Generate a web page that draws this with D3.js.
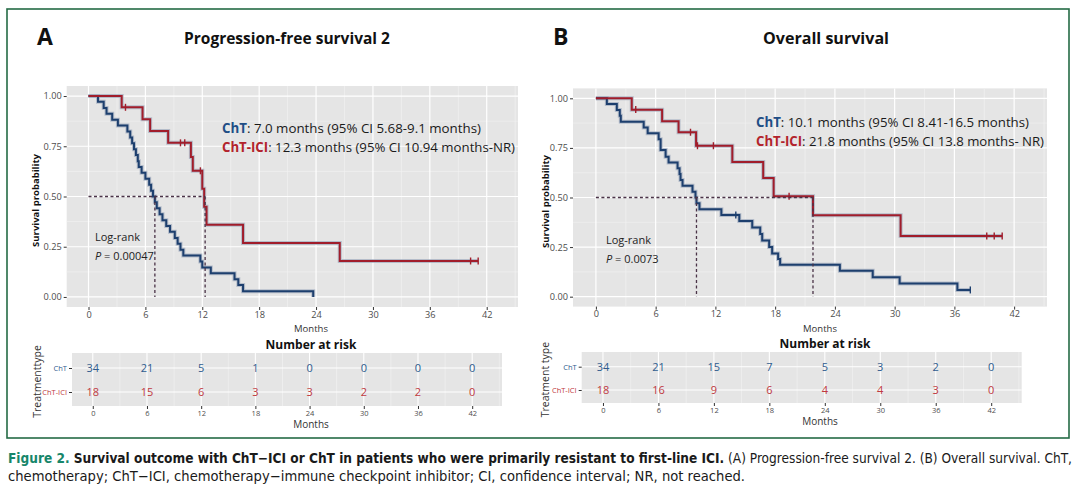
<!DOCTYPE html>
<html><head><meta charset="utf-8">
<script src="https://cdn.jsdelivr.net/npm/d3@7"></script>
<style>body{margin:0;background:#fff;} svg{display:block;}</style>
</head><body>
<svg id="c" width="1080" height="487"></svg>
<script>
// ---------------- DATA ----------------
const monthTicks = [0, 6, 12, 18, 24, 30, 36, 42];
const yTicks = [0, 0.25, 0.5, 0.75, 1];
const yTickLabels = ["0.00", "0.25", "0.50", "0.75", "1.00"];
const groups = ["ChT", "ChT-ICI"];

// Panel A: Progression-free survival 2
const pfsChtTime = [1.0, 1.6, 1.9, 2.5, 3.1, 4.1, 4.4, 4.6, 4.8, 5.0, 5.2, 5.3, 5.6, 6.0, 6.4, 6.6, 6.8, 7.0, 7.2, 7.5, 7.8, 8.2, 8.6, 9.1, 9.4, 9.7, 10.0, 11.8, 12.0, 12.9, 15.4, 15.8, 16.3, 23.7];
const pfsChtSurv = [0.971, 0.941, 0.912, 0.882, 0.853, 0.824, 0.794, 0.765, 0.735, 0.706, 0.676, 0.647, 0.618, 0.588, 0.559, 0.529, 0.500, 0.471, 0.441, 0.412, 0.382, 0.353, 0.324, 0.294, 0.265, 0.235, 0.206, 0.176, 0.147, 0.118, 0.088, 0.059, 0.029, 0.0];
const pfsChtEnd = 23.7;
const pfsChtCensor = [];
const pfsIciTime = [3.5, 5.7, 6.5, 8.4, 10.8, 11.0, 12.0, 12.2, 12.45, 16.3, 26.5];
const pfsIciSurv = [0.944, 0.885, 0.826, 0.767, 0.697, 0.628, 0.538, 0.449, 0.359, 0.269, 0.179];
const pfsIciEnd = 41.1;
const pfsIciCensor = [3.9, 9.7, 10.15, 11.8, 40.3, 41.1];
const pfsRiskCht = [34, 21, 5, 1, 0, 0, 0, 0];
const pfsRiskIci = [18, 15, 6, 3, 3, 2, 2, 0];
const pfsMedians = [7.0, 12.3];

// Panel B: Overall survival
const osChtTime = [1.1, 2.1, 2.4, 2.5, 4.8, 5.2, 6.3, 6.5, 7.0, 7.3, 8.2, 8.4, 8.5, 8.7, 9.7, 10.0, 10.1, 10.4, 12.6, 14.4, 15.7, 16.5, 16.7, 17.4, 17.7, 18.3, 18.5, 24.5, 27.8, 30.5, 36.3];
const osChtSurv = [0.971, 0.941, 0.912, 0.882, 0.853, 0.824, 0.794, 0.740, 0.706, 0.676, 0.647, 0.618, 0.588, 0.559, 0.529, 0.500, 0.471, 0.441, 0.412, 0.382, 0.349, 0.316, 0.283, 0.251, 0.218, 0.190, 0.161, 0.131, 0.098, 0.066, 0.034];
const osChtEnd = 37.6;
const osChtCensor = [14.05, 37.6];
const osIciTime = [3.6, 6.65, 8.3, 10.06, 13.7, 16.8, 17.85, 21.8, 30.6];
const osIciSurv = [0.943, 0.884, 0.829, 0.761, 0.679, 0.598, 0.506, 0.410, 0.306];
const osIciEnd = 40.8;
const osIciCensor = [4.0, 9.5, 10.2, 11.8, 19.4, 39.25, 40.0, 40.8];
const osRiskCht = [34, 21, 15, 7, 5, 3, 2, 0];
const osRiskIci = [18, 16, 9, 6, 4, 4, 3, 0];
const osMedians = [10.1, 21.8];

// ---------------- STYLE / LAYOUT ----------------
const C = { cht: "#1d3f6e", ici: "#a11d2b", chtText: "#1f4e86", iciText: "#b3232c",
  chtRisk: "#2f5c8f", iciRisk: "#c0393f", panel: "#e5e5e5", axis: "#4d4d4d", dash: "#4a3347" };
const FONT = "'Open Sans','Noto Sans','Liberation Sans',sans-serif";
const xDom = [-2.3, 45.3];

const svg = d3.select("#c");
svg.append("rect").attr("x", 0).attr("y", 0).attr("width", 1080).attr("height", 487).attr("fill", "#fff");
svg.append("rect").attr("x", 7).attr("y", 9).attr("width", 1062).attr("height", 429)
  .attr("fill", "none").attr("stroke", "#256b45").attr("stroke-width", 1.6);

function stepPoints(times, surv, end) {
  const pts = [[0, 1]];
  times.forEach((t, i) => pts.push([t, surv[i]]));
  pts.push([end, surv[surv.length - 1]]);
  return pts;
}
function survAt(times, surv, t) {
  const i = d3.bisectRight(times, t);
  return i === 0 ? 1 : surv[i - 1];
}

function drawPanel(cfg) {
  const g = svg.append("g");
  const x = d3.scaleLinear().domain(xDom).range([cfg.p.left, cfg.p.right]);
  const y = d3.scaleLinear().domain([-0.05, 1.05]).range([cfg.p.bottom, cfg.p.top]);

  // titles
  g.append("text").attr("x", cfg.letterX).attr("y", 45).attr("font-family", FONT)
    .attr("font-weight", 700).attr("font-size", 23).attr("fill", "#111").text(cfg.letter);
  g.append("text").attr("x", cfg.titleX).attr("y", 44).attr("text-anchor", "middle")
    .attr("font-family", FONT).attr("font-weight", 700).attr("font-size", 16.5).attr("fill", "#111")
    .attr("textLength", cfg.titleW).attr("lengthAdjust", "spacingAndGlyphs").text(cfg.title);

  // panel background + grid
  g.append("rect").attr("x", cfg.p.left).attr("y", cfg.p.top)
    .attr("width", cfg.p.right - cfg.p.left).attr("height", cfg.p.bottom - cfg.p.top).attr("fill", C.panel);
  const minorX = d3.range(3, 46, 6).filter(v => v < xDom[1]);
  const minorY = [0.125, 0.375, 0.625, 0.875];
  g.selectAll(null).data(minorX).join("line").attr("x1", d => x(d)).attr("x2", d => x(d))
    .attr("y1", cfg.p.top).attr("y2", cfg.p.bottom).attr("stroke", "#f4f4f4").attr("stroke-width", 0.6);
  g.selectAll(null).data(minorY).join("line").attr("y1", d => y(d)).attr("y2", d => y(d))
    .attr("x1", cfg.p.left).attr("x2", cfg.p.right).attr("stroke", "#f4f4f4").attr("stroke-width", 0.6);
  g.selectAll(null).data(monthTicks).join("line").attr("x1", d => x(d)).attr("x2", d => x(d))
    .attr("y1", cfg.p.top).attr("y2", cfg.p.bottom).attr("stroke", "#fff").attr("stroke-width", 1.2);
  g.selectAll(null).data(yTicks).join("line").attr("y1", d => y(d)).attr("y2", d => y(d))
    .attr("x1", cfg.p.left).attr("x2", cfg.p.right).attr("stroke", "#fff").attr("stroke-width", 1.2);

  // axes
  const ax = g.append("g").attr("transform", `translate(0,${cfg.p.bottom})`)
    .call(d3.axisBottom(x).tickValues(monthTicks).tickSize(3).tickPadding(1));
  const ay = g.append("g").attr("transform", `translate(${cfg.p.left},0)`)
    .call(d3.axisLeft(y).tickValues(yTicks).tickFormat((d, i) => yTickLabels[i]).tickSize(3).tickPadding(2));
  [ax, ay].forEach(a => {
    a.select(".domain").remove();
    a.selectAll("line").attr("stroke", "#333");
    a.selectAll("text").attr("font-family", FONT).attr("font-size", 9.2).attr("fill", C.axis);
  });
  g.append("text").attr("transform", `translate(${cfg.yTitleX},${(cfg.p.top + cfg.p.bottom) / 2 + 4}) rotate(-90)`)
    .attr("text-anchor", "middle").attr("font-family", FONT).attr("font-weight", 700)
    .attr("font-size", 9.5).attr("fill", "#111").text("Survival probability");
  g.append("text").attr("x", cfg.monthsX).attr("y", 331.5).attr("text-anchor", "middle")
    .attr("font-family", FONT).attr("font-size", 9.5).attr("fill", "#333").text("Months");

  // curves
  const line = d3.line().x(d => x(d[0])).y(d => y(d[1])).curve(d3.curveStepAfter);
  cfg.series.forEach(s => {
    const pts = stepPoints(s.time, s.surv, s.end);
    g.append("path").attr("d", line(pts)).attr("fill", "none").attr("stroke", "#9fabbd")
      .attr("stroke-opacity", 0.7).attr("stroke-width", 4);
  });
  cfg.series.forEach(s => {
    const pts = stepPoints(s.time, s.surv, s.end);
    g.append("path").attr("d", line(pts)).attr("fill", "none").attr("stroke", s.color)
      .attr("stroke-width", 2);
    g.selectAll(null).data(s.censor).join("line")
      .attr("x1", d => x(d)).attr("x2", d => x(d))
      .attr("y1", d => y(survAt(s.time, s.surv, d)) - 3.5).attr("y2", d => y(survAt(s.time, s.surv, d)) + 3.5)
      .attr("stroke", s.color).attr("stroke-width", 1.4);
  });

  // median lines
  const dashAttrs = sel => sel.attr("stroke", C.dash).attr("stroke-width", 1.3).attr("stroke-dasharray", "3,2.5");
  g.append("line").attr("x1", x(0)).attr("x2", x(d3.max(cfg.medians))).attr("y1", y(0.5)).attr("y2", y(0.5)).call(dashAttrs);
  g.selectAll(null).data(cfg.medians).join("line").attr("x1", d => x(d)).attr("x2", d => x(d))
    .attr("y1", y(0.5)).attr("y2", y(0)).call(dashAttrs);

  // legend text
  cfg.legend.forEach((L, i) => {
    const t = g.append("text").attr("x", cfg.legX).attr("y", cfg.legY[i]).attr("font-family", FONT)
      .attr("font-size", 13.5).attr("fill", "#1a1a1a")
      .attr("textLength", L.w).attr("lengthAdjust", "spacingAndGlyphs");
    t.append("tspan").attr("font-weight", 700).attr("fill", i === 0 ? C.chtText : C.iciText).text(groups[i]);
    t.append("tspan").text(L.rest);
  });

  // log-rank
  g.append("text").attr("x", cfg.lrX).attr("y", cfg.lrY).attr("font-family", FONT).attr("font-size", 11)
    .attr("fill", "#222").text("Log-rank");
  const pt = g.append("text").attr("x", cfg.lrX).attr("y", cfg.lrY + 19).attr("font-family", FONT)
    .attr("font-size", 11).attr("fill", "#222");
  pt.append("tspan").attr("font-style", "italic").text("P");
  pt.append("tspan").text(" = " + cfg.pval);

  // risk table
  const r = cfg.r;
  const rx = d3.scaleLinear().domain(xDom).range([r.left, r.right]);
  const ry = d3.scalePoint().domain(groups).range(r.rows);
  g.append("text").attr("x", cfg.riskTitleX).attr("y", r.top - 4).attr("text-anchor", "middle")
    .attr("font-family", FONT).attr("font-weight", 700).attr("font-size", 12).attr("fill", "#111").text("Number at risk");
  g.append("rect").attr("x", r.left).attr("y", r.top).attr("width", r.right - r.left)
    .attr("height", r.bottom - r.top).attr("fill", C.panel);
  g.selectAll(null).data(minorX.filter(v => v < 45.2)).join("line").attr("x1", d => rx(d)).attr("x2", d => rx(d))
    .attr("y1", r.top).attr("y2", r.bottom).attr("stroke", "#f4f4f4").attr("stroke-width", 0.6);
  g.selectAll(null).data(monthTicks).join("line").attr("x1", d => rx(d)).attr("x2", d => rx(d))
    .attr("y1", r.top).attr("y2", r.bottom).attr("stroke", "#fff").attr("stroke-width", 1.1);
  g.selectAll(null).data(groups).join("line").attr("y1", d => ry(d)).attr("y2", d => ry(d))
    .attr("x1", r.left).attr("x2", r.right).attr("stroke", "#fff").attr("stroke-width", 1.1);
  const rax = g.append("g").attr("transform", `translate(0,${r.bottom})`)
    .call(d3.axisBottom(rx).tickValues(monthTicks).tickSize(3).tickPadding(2));
  const ray = g.append("g").attr("transform", `translate(${r.left},0)`)
    .call(d3.axisLeft(ry).tickSize(3).tickPadding(2));
  [rax, ray].forEach(a => {
    a.select(".domain").remove();
    a.selectAll("line").attr("stroke", "#333");
    a.selectAll("text").attr("font-family", FONT).attr("font-size", 7.5).attr("fill", C.axis);
  });
  ray.selectAll("text").attr("fill", (d, i) => i === 0 ? C.chtRisk : C.iciRisk);
  [cfg.riskCht, cfg.riskIci].forEach((vals, gi) => {
    g.selectAll(null).data(vals).join("text")
      .attr("x", (d, i) => rx(monthTicks[i])).attr("y", ry(groups[gi]) + 4)
      .attr("text-anchor", "middle").attr("font-family", FONT).attr("font-size", 11)
      .attr("fill", gi === 0 ? C.chtRisk : C.iciRisk).text(d => d);
  });
  g.append("text").attr("transform", `translate(${cfg.rTitleX},${(r.top + r.bottom) / 2 + 2}) rotate(-90)`)
    .attr("text-anchor", "middle").attr("font-family", FONT).attr("font-size", 10.5).attr("fill", "#333").text(cfg.rTitle);
  g.append("text").attr("x", cfg.monthsX).attr("y", r.bottom + 22).attr("text-anchor", "middle")
    .attr("font-family", FONT).attr("font-size", 10).attr("fill", "#333").text("Months");
}

drawPanel({
  letter: "A", letterX: 37, title: "Progression-free survival 2", titleX: 287, titleW: 206,
  p: { left: 66.7, right: 518, top: 86, bottom: 307 },
  yTitleX: 39, monthsX: 311,
  series: [
    { time: pfsChtTime, surv: pfsChtSurv, end: pfsChtEnd, censor: pfsChtCensor, color: C.cht },
    { time: pfsIciTime, surv: pfsIciSurv, end: pfsIciEnd, censor: pfsIciCensor, color: C.ici }
  ],
  medians: pfsMedians,
  legX: 222, legY: [133, 151.5],
  legend: [{ rest: ": 7.0 months (95% CI 5.68-9.1 months)", w: 259 },
           { rest: ": 12.3 months (95% CI 10.94 months-NR)", w: 293 }],
  lrX: 95, lrY: 241, pval: "0.00047",
  r: { left: 72, right: 502, top: 353, bottom: 406, rows: [368, 392] },
  riskTitleX: 311, riskCht: pfsRiskCht, riskIci: pfsRiskIci, rTitleX: 41, rTitle: "Treatmenttype"
});

drawPanel({
  letter: "B", letterX: 553, title: "Overall survival", titleX: 826, titleW: 126,
  p: { left: 573, right: 1047, top: 88.4, bottom: 306.6 },
  yTitleX: 549, monthsX: 820,
  series: [
    { time: osChtTime, surv: osChtSurv, end: osChtEnd, censor: osChtCensor, color: C.cht },
    { time: osIciTime, surv: osIciSurv, end: osIciEnd, censor: osIciCensor, color: C.ici }
  ],
  medians: osMedians,
  legX: 756, legY: [127, 145.5],
  legend: [{ rest: ": 10.1 months (95% CI 8.41-16.5 months)", w: 273 },
           { rest: ": 21.8 months (95% CI 13.8 months- NR)", w: 288 }],
  lrX: 606, lrY: 244, pval: "0.0073",
  r: { left: 581.7, right: 1021.7, top: 352, bottom: 403, rows: [366.7, 390] },
  riskTitleX: 825, riskCht: osRiskCht, riskIci: osRiskIci, rTitleX: 549, rTitle: "Treatment type"
});

// caption
const CAPF = "'Liberation Sans Narrow','DejaVu Sans Condensed','Roboto','Liberation Sans',sans-serif";
const cap1 = svg.append("text").attr("x", 8).attr("y", 463).attr("font-family", CAPF).attr("font-size", 13.5)
  .attr("fill", "#1a1a1a").attr("textLength", 1064).attr("lengthAdjust", "spacingAndGlyphs");
cap1.append("tspan").attr("font-weight", 700).attr("fill", "#17866a").text("Figure 2.");
cap1.append("tspan").attr("font-weight", 700).text("  Survival outcome with ChT\u2212ICI or ChT in patients who were primarily resistant to first-line ICI.");
cap1.append("tspan").text(" (A) Progression-free survival 2. (B) Overall survival. ChT,");
svg.append("text").attr("x", 8).attr("y", 481).attr("font-family", CAPF).attr("font-size", 13.5)
  .attr("fill", "#1a1a1a").attr("textLength", 737).attr("lengthAdjust", "spacingAndGlyphs")
  .text("chemotherapy; ChT\u2212ICI, chemotherapy\u2212immune checkpoint inhibitor; CI, confidence interval; NR, not reached.");
</script>
</body></html>
